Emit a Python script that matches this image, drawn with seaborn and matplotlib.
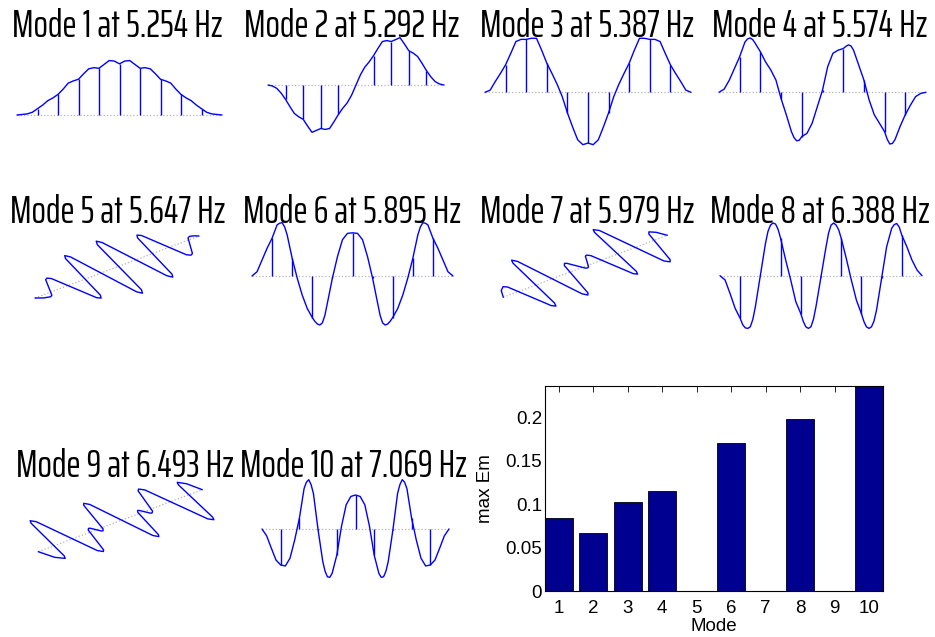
import numpy as np
import matplotlib
matplotlib.use('Agg')
import matplotlib.pyplot as plt
import seaborn as sns

sns.set_theme(style='white')
plt.rcParams['font.family'] = ['Liberation Sans', 'DejaVu Sans']
TITLE_FONT = ['Saira ExtraCondensed', 'Saira Extra Condensed', 'Saira Condensed', 'Barlow Condensed',
              'Roboto Condensed', 'DejaVu Sans']

W, H = 935, 637

# --- vertical modes: displacement at quarter-node stations along the span (nodes 0..10) ---
stations = np.linspace(0, 10, 41)
nodes = np.arange(1, 10)

mode1_u = [0, 0.01, 0.02, 0.05, 0.115, 0.18, 0.26, 0.31, 0.375, 0.47, 0.58, 0.62, 0.65, 0.75, 0.84, 0.86, 0.85,
           0.92, 0.99, 0.98, 0.93, 0.98, 0.99, 0.92, 0.85, 0.86, 0.84, 0.75, 0.65, 0.62, 0.58, 0.47, 0.375, 0.31,
           0.26, 0.18, 0.115, 0.05, 0.02, 0.01, 0]
mode2_u = [0, -0.02, -0.07, -0.17, -0.30, -0.45, -0.59, -0.66, -0.71, -0.85, -0.98, -0.94, -0.90, -0.92, -0.90,
           -0.76, -0.61, -0.48, -0.37, -0.21, 0, 0.21, 0.37, 0.48, 0.61, 0.76, 0.90, 0.92, 0.90, 0.94, 0.98, 0.85,
           0.71, 0.66, 0.59, 0.45, 0.30, 0.17, 0.07, 0.02, 0]
mode3_u = [0, 0.04, 0.20, 0.35, 0.51, 0.72, 0.94, 0.98, 0.98, 1.0, 1.0, 0.78, 0.54, 0.35, 0.15, -0.08, -0.38, -0.64,
           -0.88, -0.97, -0.94, -0.97, -0.88, -0.64, -0.38, -0.08, 0.15, 0.35, 0.54, 0.78, 1.0, 1.0, 0.98, 0.98,
           0.94, 0.72, 0.51, 0.35, 0.20, 0.04, 0]
mode4_u = [0, 0.06, 0.23, 0.45, 0.67, 0.94, 1.02, 0.92, 0.76, 0.57, 0.42, 0.23, -0.12, -0.42, -0.74, -0.91, -0.83,
           -0.77, -0.58, -0.27, 0.04, 0.48, 0.73, 0.79, 0.82, 0.89, 0.79, 0.51, 0.23, -0.14, -0.42, -0.58, -0.74,
           -0.97, -0.89, -0.64, -0.42, -0.24, -0.08, -0.02, 0]
mode6_u = [0, 0.08, 0.30, 0.52, 0.71, 0.96, 1.0, 0.77, 0.33, -0.04, -0.36, -0.61, -0.78, -0.90, -0.88, -0.51, -0.04,
           0.36, 0.68, 0.80, 0.81, 0.80, 0.68, 0.36, -0.04, -0.51, -0.88, -0.90, -0.78, -0.61, -0.36, -0.04, 0.33,
           0.77, 1.0, 0.96, 0.71, 0.52, 0.30, 0.08, 0]
mode8_u = [0, -0.08, -0.34, -0.62, -0.81, -0.99, -0.97, -0.59, 0.01, 0.61, 0.96, 0.98, 0.71, 0.30, -0.08, -0.49,
           -0.72, -0.97, -0.97, -0.59, -0.02, 0.55, 0.96, 0.96, 0.71, 0.33, -0.08, -0.46, -0.72, -0.97, -0.97,
           -0.65, -0.05, 0.55, 0.90, 0.99, 0.77, 0.55, 0.30, 0.11, 0]
mode10_u = [0, -0.14, -0.39, -0.63, -0.73, -0.75, -0.59, -0.22, 0.22, 0.82, 1.0, 0.72, -0.02, -0.66, -0.97, -0.90,
            -0.53, 0.05, 0.49, 0.66, 0.69, 0.66, 0.49, 0.05, -0.53, -0.90, -0.97, -0.66, -0.02, 0.72, 1.0, 0.82,
            0.22, -0.22, -0.59, -0.75, -0.73, -0.63, -0.39, -0.14, 0]

# extra readings around the crests, where the quarter-node grid is too coarse
mode4_extra_s = [1.375, 1.625, 3.625, 3.875, 6.125, 6.375, 8.125, 8.375]
mode4_extra_u = [1.0, 0.99, -0.85, -0.90, 0.86, 0.87, -0.88, -0.96]
mode6_extra_s = [1.375, 1.625, 3.125, 3.375, 3.625, 6.375, 6.625, 6.875, 8.375, 8.625]
mode6_extra_u = [0.99, 0.92, -0.85, -0.92, -0.74, -0.74, -0.92, -0.85, 0.92, 0.99]
mode8_extra_s = [1.125, 1.375, 1.625, 2.375, 2.625, 2.875, 4.125, 4.375, 4.625, 5.375, 5.625, 5.875,
                 7.125, 7.375, 7.625, 8.625, 8.875]
mode8_extra_u = [-0.93, -1.0, -0.83, 0.84, 1.0, 0.88, -0.87, -1.0, -0.83, 0.81, 1.0, 0.87,
                 -0.87, -1.0, -0.86, 0.97, 0.92]
mode10_extra_s = [2.375, 2.625, 3.375, 3.625, 6.375, 6.625, 7.375, 7.625]
mode10_extra_u = [0.95, 0.90, -0.86, -0.98, -0.98, -0.86, 0.90, 0.95]

# --- lateral modes (drawn in an oblique 3-D view): span position s and lateral displacement ---
mode5_s = [0, 0.35, 0.70, 0.83, 1.44, 1.57, 1.73, 2.49, 2.65, 2.78, 3.40, 3.53, 3.69, 4.42, 4.58, 4.73, 5.44,
           5.59, 5.75, 6.52, 6.68, 6.81, 7.43, 7.56, 7.72, 8.46, 8.62, 8.77, 9.45, 9.60, 9.80, 10]
mode5_lat = [0, -0.09, -0.13, -0.10, 0.40, 0.43, 0.37, -0.64, -0.70, -0.61, 0.78, 0.87, 0.77, -0.90, -1.0, -0.89,
             0.83, 0.94, 0.84, -0.77, -0.87, -0.785, 0.595, 0.68, 0.62, -0.39, -0.45, -0.42, 0.06, 0.09, 0.06, 0]

mode7_s = [0, 0.29, 0.58, 0.74, 1.47, 1.63, 1.74, 2.27, 2.38, 2.55, 3.35, 3.52, 3.64, 4.20, 4.32, 4.42, 4.90, 5.0,
           5.10, 5.56, 5.66, 5.81, 6.52, 6.67, 6.77, 7.24, 7.34, 7.54, 8.45, 8.65, 8.77, 9.33, 9.45, 9.72, 10]
mode7_lat = [0, 0.21, 0.30, 0.24, -0.74, -0.80, -0.70, 0.85, 0.95, 0.85, -0.73, -0.83, -0.77, 0.24, 0.30, 0.28,
             -0.05, -0.07, -0.05, 0.28, 0.30, 0.24, -0.71, -0.77, -0.68, 0.85, 0.94, 0.85, -0.68, -0.77, -0.71,
             0.23, 0.29, 0.20, 0]

mode9_s = [0, 0.35, 0.71, 0.81, 1.28, 1.38, 1.57, 2.43, 2.62, 2.72, 3.20, 3.30, 3.37, 3.68, 3.75, 3.86, 4.38, 4.49,
           4.67, 5.49, 5.67, 5.76, 6.16, 6.25, 6.32, 6.63, 6.70, 6.82, 7.36, 7.48, 7.68, 8.61, 8.81, 8.90, 9.31,
           9.40, 9.70, 10]
mode9_lat = [0, -0.33, -0.47, -0.39, 0.87, 0.95, 0.86, -0.59, -0.68, -0.64, 0.08, 0.12, 0.11, -0.09, -0.10, -0.045,
             0.815, 0.87, 0.775, -0.755, -0.85, -0.795, 0.045, 0.10, 0.09, -0.11, -0.12, -0.075, 0.645, 0.69, 0.60,
             -0.87, -0.96, -0.88, 0.39, 0.47, 0.33, 0]

mode_freqs = ['5.254', '5.292', '5.387', '5.574', '5.647', '5.895', '5.979', '6.388', '6.493', '7.069']

# --- bar chart ---
mode_labels = ['1', '2', '3', '4', '5', '6', '7', '8', '9', '10']
max_em = [0.0835, 0.0662, 0.1027, 0.1154, 0.0, 0.1700, 0.0, 0.1977, 0.0, 0.236]

fig = plt.figure(figsize=(W / 100, H / 100), dpi=100)


def px_axes(left, top, width, height):
    return fig.add_axes([left / W, 1 - (top + height) / H, width / W, height / H])


def draw_vertical(u, left, right, base, amp, extra_s=(), extra_u=()):
    ax = px_axes(left, base - amp, right - left, 2 * amp)
    ax.set_xlim(0, 10)
    ax.set_ylim(-1, 1)
    ax.plot([0, 10], [0, 0], ls=':', color='#b4b4b4', lw=0.9, clip_on=False)
    u = np.asarray(u)
    ax.vlines(nodes, 0, u[4:40:4], color='blue', lw=1.0, clip_on=False)
    s_all = np.concatenate([stations, extra_s])
    u_all = np.concatenate([u, extra_u])
    order = np.argsort(s_all, kind='stable')
    sns.lineplot(x=s_all[order], y=u_all[order], color='blue', lw=1.0, ax=ax, sort=False, estimator=None,
                 clip_on=False)
    ax.set_axis_off()


# oblique view: span axis and lateral axis as seen on screen (pixels, y up)
SPAN_DIR = (16.4, 6.2)
LAT_DIR = (-32.4, 23.6)


def draw_lateral(s, lat, ox, oy):
    s = np.asarray(s)
    lat = np.asarray(lat)
    ax = px_axes(ox - 45, oy - 115, 250, 160)
    ax.set_xlim(-45, 205)
    ax.set_ylim(-45, 115)
    ax.plot([0, 10 * SPAN_DIR[0]], [0, 10 * SPAN_DIR[1]], ls=':', color='#b4b4b4', lw=0.9)
    xs = s * SPAN_DIR[0] + lat * LAT_DIR[0]
    ys = s * SPAN_DIR[1] + lat * LAT_DIR[1]
    sns.lineplot(x=xs, y=ys, color='blue', lw=1.0, ax=ax, sort=False, estimator=None)
    ax.set_axis_off()


draw_vertical(mode1_u, 17, 222, 115, 55)
draw_vertical(mode2_u, 268, 444, 85, 48.3)
draw_vertical(mode3_u, 485, 691, 92.3, 54)
draw_vertical(mode4_u, 719, 926, 92.3, 53.3, mode4_extra_s, mode4_extra_u)
draw_vertical(mode6_u, 252, 453, 276, 53.3, mode6_extra_s, mode6_extra_u)
draw_vertical(mode8_u, 720, 922, 275.7, 52.7, mode8_extra_s, mode8_extra_u)
draw_vertical(mode10_u, 262, 449, 529, 49.3, mode10_extra_s, mode10_extra_u)

draw_lateral(mode5_s, mode5_lat, 35, 298)
draw_lateral(mode7_s, mode7_lat, 503.3, 297.3)
draw_lateral(mode9_s, mode9_lat, 38.3, 551.7)

# titles
title_pos = [(117, 37), (352, 37), (587, 37), (820, 37),
             (118, 223), (352, 223), (587, 223), (820, 223),
             (125, 477), (354, 477)]
for k, (tx, ty) in enumerate(title_pos):
    fig.text(tx / W, 1 - ty / H, f'Mode {k + 1} at {mode_freqs[k]} Hz', ha='center', va='baseline',
             fontsize=27.3, family=TITLE_FONT, color='black')

# bar chart of max Em
axb = px_axes(545, 386, 338, 205)
sns.barplot(x=mode_labels, y=max_em, color='#000090', saturation=1, edgecolor='black', linewidth=0.6,
            width=0.8, ax=axb)
axb.set_xlim(-0.4, 9.4)
axb.set_ylim(0, 0.236)
axb.set_yticks([0, 0.05, 0.1, 0.15, 0.2])
axb.set_yticklabels(['0', '0.05', '0.1', '0.15', '0.2'])
axb.tick_params(direction='in', top=True, right=True, length=4, width=0.6, labelsize=13.5, colors='black')
axb.tick_params(axis='x', pad=6.5)
axb.tick_params(axis='y', pad=2)
for sp in axb.spines.values():
    sp.set_color('black')
    sp.set_linewidth(0.8)
axb.set_xlabel('Mode', fontsize=13.5, color='black')
axb.set_ylabel('max Em', fontsize=13.5, color='black')
axb.xaxis.set_label_coords(0.5, -0.132)
axb.yaxis.set_label_coords(-0.15, 0.5)

fig.savefig('out.png', dpi=100)
